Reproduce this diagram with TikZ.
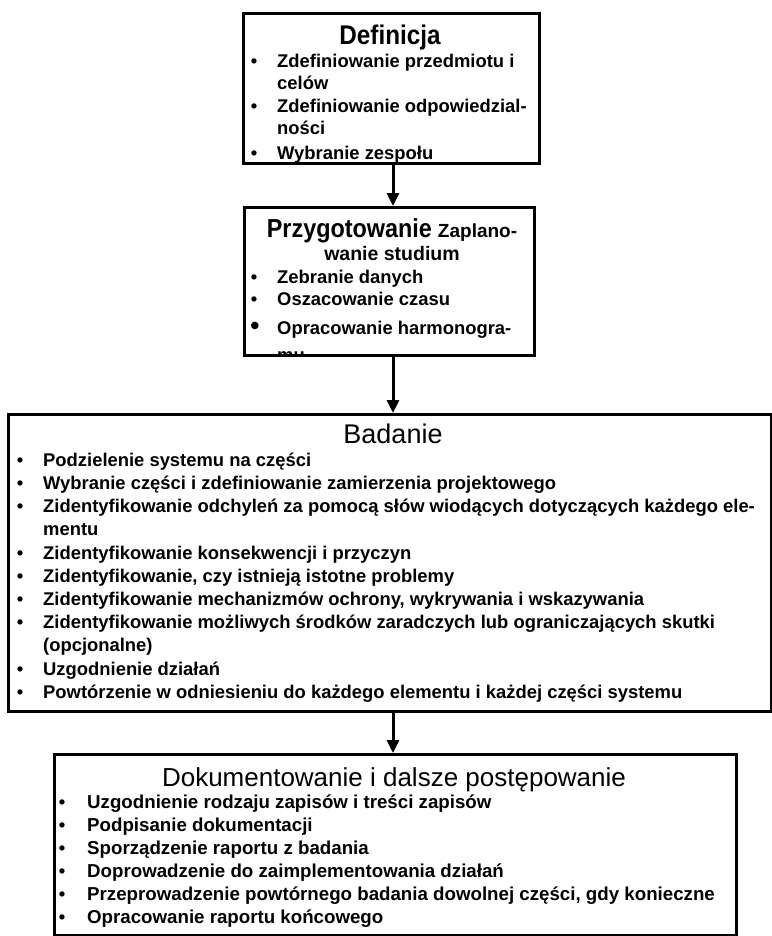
\documentclass[tikz,border=0pt]{standalone}
\usepackage{fontspec}
\setmainfont{Liberation Sans}
\newfontfamily\narrowf[FakeStretch=0.9]{Liberation Sans}
\usetikzlibrary{arrows.meta}
\begin{document}
\begin{tikzpicture}[x=1pt,y=-1pt,
  box/.style={draw=black, line width=2.8pt, inner sep=0pt, anchor=north west},
  itm/.style={anchor=base west, inner sep=0pt, font=\bfseries\fontsize{18.4}{22}\selectfont},
  itmd/.style={anchor=base west, inner sep=0pt, font=\bfseries\fontsize{18.7}{22}\selectfont},
  bul/.style={anchor=base, inner sep=0pt, font=\bfseries\fontsize{18.4}{22}\selectfont},
  bigbul/.style={anchor=base, inner sep=0pt, font=\bfseries\fontsize{26}{22}\selectfont},
  ttlb/.style={anchor=base, inner sep=0pt, font=\narrowf\bfseries\fontsize{27}{30}\selectfont},
  ttlr/.style={anchor=base, inner sep=0pt, font=\fontsize{26}{30}\selectfont},
  arr/.style={line width=3pt, -{Triangle[length=13pt,width=12pt]}}]
\useasboundingbox (0,0) rectangle (771,936);
\coordinate (ax) at (393,0);

% boxes
\node[box, minimum width=296pt, minimum height=150pt] (b1) at (242,12) {};
\node[box, minimum width=290pt, minimum height=148pt] (b2) at (243,206) {};
\node[box, minimum width=763pt, minimum height=297pt] (b3) at (7,413) {};
\node[box, minimum width=682pt, minimum height=181pt] (b4) at (53,753) {};

% box 1 text
\begin{scope}
\clip (b1.north west) rectangle (b1.south east);
\node[ttlb] (t1) at (390,45) {Definicja};
\node[bul] (p11) at (254,68) {•};
\node[itm] (i11) at (277,68) {Zdefiniowanie przedmiotu i};
\node[itm] (i12) at (277,90) {celów};
\node[bul] (p13) at (254,113) {•};
\node[itm] (i13) at (277,113) {Zdefiniowanie odpowiedzial-};
\node[itm] (i14) at (277,135) {ności};
\node[bul] (p15) at (254,160) {•};
\node[itm] (i15) at (277,160) {Wybranie zespołu};
\end{scope}

% box 2 text
\begin{scope}
\clip (b2.north west) rectangle (b2.south east);
\node[anchor=base, inner sep=0pt] (t2) at (392,237) {{\narrowf\bfseries\fontsize{26}{30}\selectfont Przygotowanie}\hspace{6pt}{\bfseries\fontsize{19}{22}\selectfont Zaplano-}};
\node[anchor=base, inner sep=0pt, font=\bfseries\fontsize{19.5}{22}\selectfont] (t2b) at (392,260) {wanie studium};
\node[bul] (p21) at (254,283) {•};
\node[itm] (i21) at (277,283) {Zebranie danych};
\node[bul] (p22) at (254,305) {•};
\node[itm] (i22) at (277,305) {Oszacowanie czasu};
\node[bigbul] (p23) at (255,334) {•};
\node[itm] (i23) at (277,334) {Opracowanie harmonogra-};
\node[itm] (i24) at (277,361) {mu};
\end{scope}

% box 3 text
\node[ttlr, font=\fontsize{27}{30}\selectfont] (t3) at (393,443) {Badanie};
\node[bul] (p31) at (20,466) {•};
\node[itm] (i31) at (43,466) {Podzielenie systemu na części};
\node[bul] (p32) at (20,489) {•};
\node[itm] (i32) at (43,489) {Wybranie części i zdefiniowanie zamierzenia projektowego};
\node[bul] (p33) at (20,512) {•};
\node[itm] (i33) at (43,512) {Zidentyfikowanie odchyleń za pomocą słów wiodących dotyczących każdego ele-};
\node[itm] (i34) at (43,535) {mentu};
\node[bul] (p35) at (20,559) {•};
\node[itm] (i35) at (43,559) {Zidentyfikowanie konsekwencji i przyczyn};
\node[bul] (p36) at (20,582) {•};
\node[itm] (i36) at (43,582) {Zidentyfikowanie, czy istnieją istotne problemy};
\node[bul] (p37) at (20,605) {•};
\node[itm] (i37) at (43,605) {Zidentyfikowanie mechanizmów ochrony, wykrywania i wskazywania};
\node[bul] (p38) at (20,628) {•};
\node[itm] (i38) at (43,628) {Zidentyfikowanie możliwych środków zaradczych lub ograniczających skutki};
\node[itm] (i39) at (43,651) {(opcjonalne)};
\node[bul] (p3a) at (20,675) {•};
\node[itm] (i3a) at (43,675) {Uzgodnienie działań};
\node[bul] (p3b) at (20,698) {•};
\node[itm] (i3b) at (43,698) {Powtórzenie w odniesieniu do każdego elementu i każdej części systemu};

% box 4 text
\node[ttlr] (t4) at (394,786) {Dokumentowanie i dalsze postępowanie};
\node[bul] (p41) at (62,808) {•};
\node[itmd] (i41) at (87,808) {Uzgodnienie rodzaju zapisów i treści zapisów};
\node[bul] (p42) at (62,831) {•};
\node[itmd] (i42) at (87,831) {Podpisanie dokumentacji};
\node[bul] (p43) at (62,854) {•};
\node[itmd] (i43) at (87,854) {Sporządzenie raportu z badania};
\node[bul] (p44) at (62,877) {•};
\node[itmd] (i44) at (87,877) {Doprowadzenie do zaimplementowania działań};
\node[bul] (p45) at (62,900) {•};
\node[itmd] (i45) at (87,900) {Przeprowadzenie powtórnego badania dowolnej części, gdy konieczne};
\node[bul] (p46) at (62,923) {•};
\node[itmd] (i46) at (87,923) {Opracowanie raportu końcowego};

% arrows
\draw[arr] (b1.south -| ax) -- (b2.north -| ax);
\draw[arr] (b2.south -| ax) -- (b3.north -| ax);
\draw[arr] (b3.south -| ax) -- (b4.north -| ax);
\end{tikzpicture}
\end{document}
